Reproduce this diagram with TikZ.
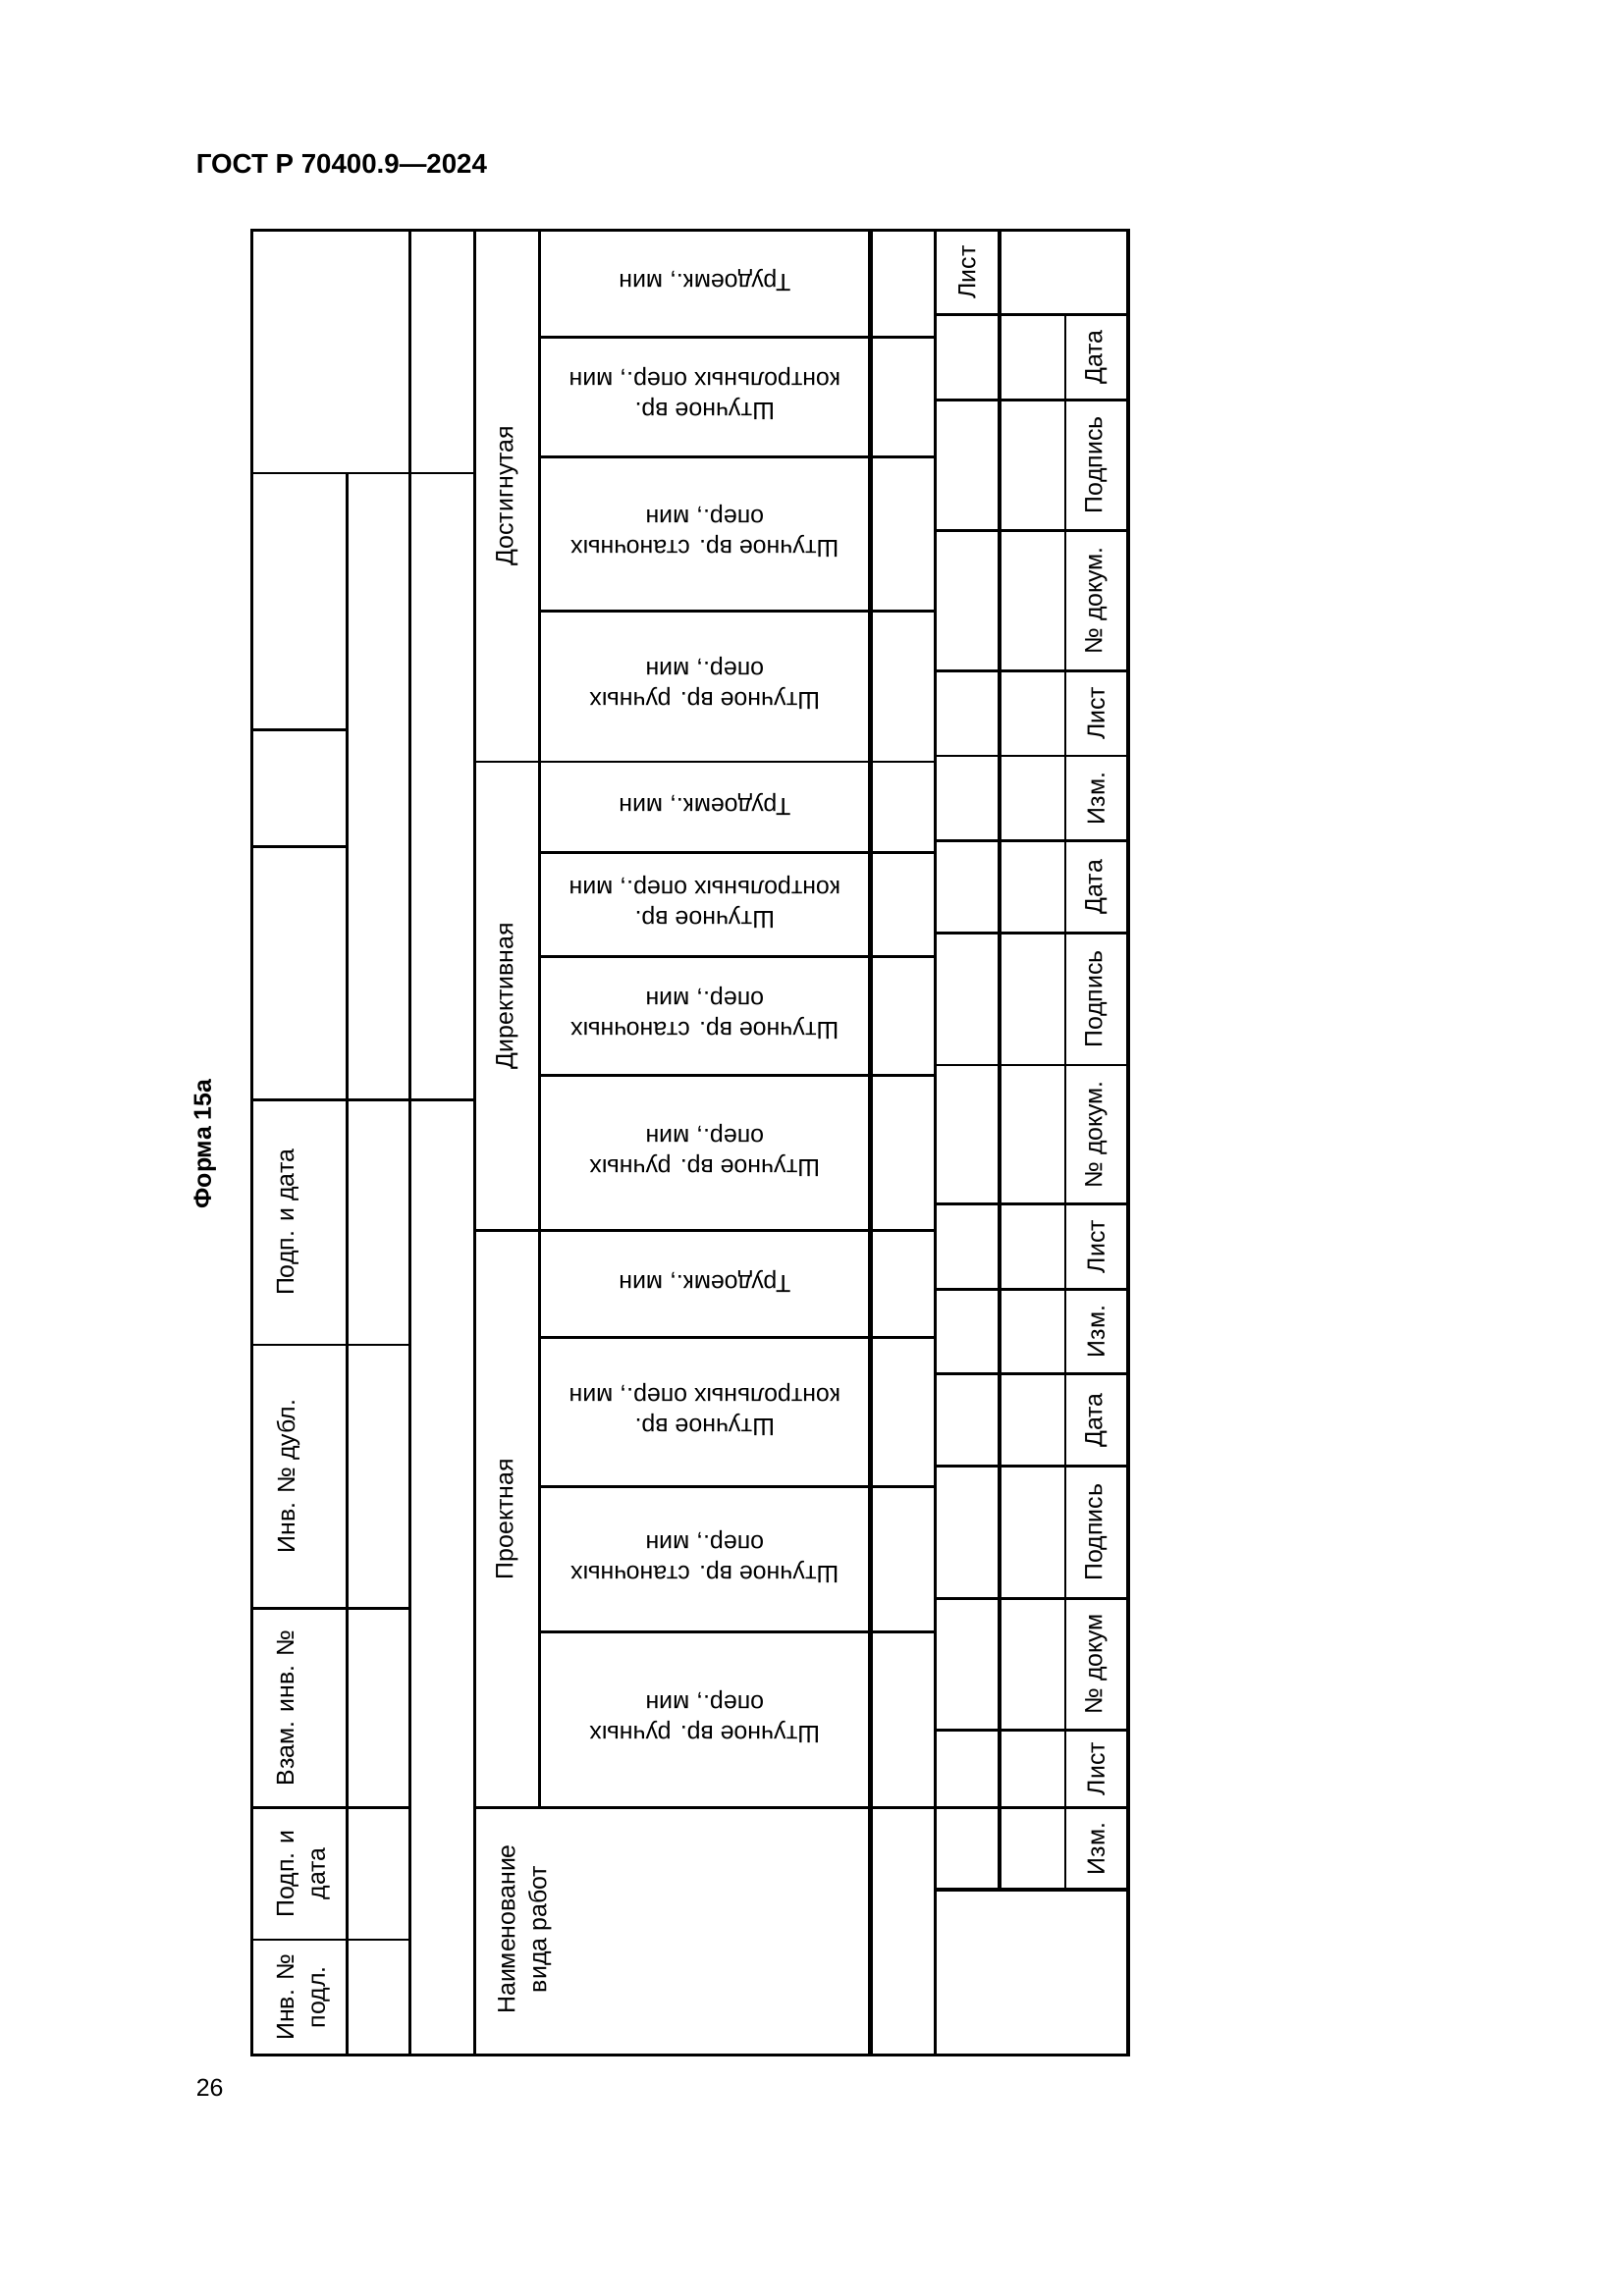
\documentclass[tikz,border=0pt]{standalone}
\usepackage{fontspec}
\setmainfont{Liberation Sans}
\usepackage{tikz}

\tikzset{
  thickline/.style={line width=1.5pt},
  lab/.style={font=\fontsize{9}{11.5}\selectfont,rotate=90,align=center,inner sep=0pt},
  cell/.style={font=\fontsize{9}{11.2}\selectfont,rotate=180,align=center,inner sep=0pt}
}

\begin{document}
\begin{tikzpicture}[x=0.018949cm,y=-0.018949cm,line width=1pt]
\useasboundingbox (0,0) rectangle (1108.2,1567.3);

\node[anchor=base west,inner sep=0pt,font=\bfseries\fontsize{10}{12}\selectfont] (title) at (133,118) {ГОСТ Р 70400.9—2024};
\node[rotate=90,inner sep=0pt,font=\bfseries\fontsize{9}{11}\selectfont] (forma) at (140,781) {Форма 15а};
\node[anchor=base west,inner sep=0pt,font=\fontsize{9}{11}\selectfont] (pagenum) at (133,1431) {26};

% frame and columns
\draw[line width=1.2pt] (172,157) rectangle (770,1403);
\draw (237,323) -- (237,1403);
\draw (280,157) -- (280,1403);
\draw (324,157) -- (324,1403);
\draw (368,157) -- (368,1234);
\draw[thickline] (594,157) -- (594,1403);
\draw (638,157) -- (638,1403);
\draw[thickline] (682,157) -- (682,1290);
\draw (727,215) -- (727,1290);

% left stamp
\draw (172,323) -- (324,323);
\draw (172,751) -- (324,751);
\foreach \y in {498,578}
  \draw (172,\y) -- (237,\y);
\foreach \y in {918,1098,1234,1324}
  \draw (172,\y) -- (280,\y);

% rows
\foreach \y in {520,840,1234}
  \draw (324,\y) -- (638,\y);
\foreach \y in {230,312,417,582,653,734,913,1015,1114}
  \draw (368,\y) -- (638,\y);
\foreach \y in {215,273,362,458,516,574,637,727,822,880,938,1001,1091,1181,1234}
  \draw (638,\y) -- (770,\y);
\draw[thickline] (638,1290) -- (770,1290);

% stamp labels
\node[lab,anchor=north] (podp1) at (188,834.5) {Подп. и дата};
\node[lab,anchor=north] (invdub) at (188,1008) {Инв. № дубл.};
\node[lab,anchor=north] (vzam) at (188,1166) {Взам. инв. №};
\node[lab,anchor=north] (podp2) at (188,1279) {Подп. и\\дата};
\node[lab,anchor=north] (invpodl) at (188,1363.5) {Инв. №\\подл.};

% groups
\node[lab] (dost) at (346,338.5) {Достигнутая};
\node[lab] (dir) at (346,680) {Директивная};
\node[lab] (proj) at (346,1037) {Проектная};
\node[lab,anchor=north] (naim) at (339,1317) {Наименование\\вида работ};

% cells
\foreach \a/\b/\n in {157/230/1,520/582/2,840/913/3}
  \node[cell] (trud\n) at (481,{(\a+\b)/2-2}) {Трудоемк., мин};
\foreach \a/\b/\n in {230/312/1,582/653/2,913/1015/3}
  \node[cell] (kontr\n) at (481,{(\a+\b)/2-2}) {Штучное вр.\\контрольных опер., мин};
\foreach \a/\b/\n in {312/417/1,653/734/2,1015/1114/3}
  \node[cell] (stan\n) at (481,{(\a+\b)/2-2}) {Штучное вр. станочных\\опер., мин};
\foreach \a/\b/\n in {417/520/1,734/840/2,1114/1234/3}
  \node[cell] (ruch\n) at (481,{(\a+\b)/2-2}) {Штучное вр. ручных\\опер., мин};

% right block
\node[lab] (list0) at (660,186) {Лист};
\foreach \a/\b/\t [count=\n] in {215/273/Дата,273/362/Подпись,362/458/№ докум.,458/516/Лист,516/574/Изм.,
    574/637/Дата,637/727/Подпись,727/822/№ докум.,822/880/Лист,880/938/Изм.,
    938/1001/Дата,1001/1091/Подпись,1091/1181/№ докум,1181/1234/Лист,1234/1290/Изм.}
  \node[lab] (r\n) at (748,{(\a+\b)/2}) {\t};
\end{tikzpicture}
\end{document}
